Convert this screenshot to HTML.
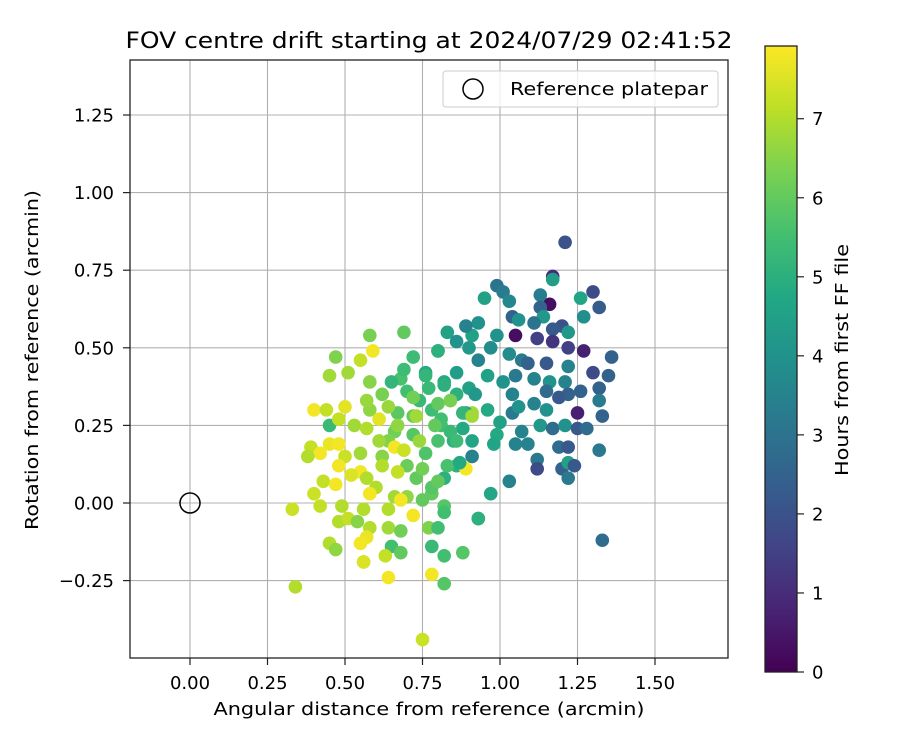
<!DOCTYPE html>
<html><head><meta charset="utf-8"><style>
html,body{margin:0;padding:0;background:#fff;}
svg{display:block;font-family:"DejaVu Sans","Liberation Sans",sans-serif;}
</style></head><body>
<svg id="chart" width="900" height="750" viewBox="0 0 900 750">
<defs>
<linearGradient id="vir" x1="0" y1="1" x2="0" y2="0">
<stop offset="0" stop-color="#440154"/><stop offset="0.1" stop-color="#482475"/><stop offset="0.2" stop-color="#414487"/><stop offset="0.3" stop-color="#355f8d"/><stop offset="0.4" stop-color="#2a788e"/><stop offset="0.5" stop-color="#21918c"/><stop offset="0.6" stop-color="#22a884"/><stop offset="0.7" stop-color="#44bf70"/><stop offset="0.8" stop-color="#7ad151"/><stop offset="0.9" stop-color="#bddf26"/><stop offset="1" stop-color="#fde725"/>
</linearGradient>
<clipPath id="plotclip"><rect x="130" y="60" width="598" height="598"/></clipPath>
</defs>
<text x="429" y="48" text-anchor="middle" font-size="22" textLength="607" lengthAdjust="spacingAndGlyphs">FOV centre drift starting at 2024/07/29 02:41:52</text>
<g id="grid"></g>
<g id="points" clip-path="url(#plotclip)"></g>
<circle cx="190" cy="503" r="10" fill="none" stroke="#000" stroke-width="1.5"/>
<rect x="130" y="60" width="598" height="598" fill="none" stroke="#222" stroke-width="1.3"/>
<g id="ticks"></g>
<text x="429" y="715" text-anchor="middle" font-size="18" textLength="431" lengthAdjust="spacingAndGlyphs">Angular distance from reference (arcmin)</text>
<text transform="translate(38,360) rotate(-90)" text-anchor="middle" font-size="18" textLength="340" lengthAdjust="spacingAndGlyphs">Rotation from reference (arcmin)</text>
<g>
<rect x="443" y="71" width="275" height="36" rx="3" fill="#fff" fill-opacity="0.8" stroke="#ccc"/>
<circle cx="473" cy="89" r="10" fill="none" stroke="#000" stroke-width="1.5"/>
<text x="510" y="95" font-size="18" textLength="198" lengthAdjust="spacingAndGlyphs">Reference platepar</text>
</g>
<rect x="765" y="46" width="32" height="626" fill="url(#vir)" stroke="#222" stroke-width="1.3"/>
<g id="cbticks"></g>
<text transform="translate(848,360) rotate(-90)" text-anchor="middle" font-size="18" textLength="232" lengthAdjust="spacingAndGlyphs">Hours from first FF file</text>
</svg>
<script>
const xs=[1.21,1.17,1.17,1.16,1.30,1.32,1.26,1.27,0.99,1.01,1.03,0.95,1.13,1.13,1.04,1.06,1.14,1.11,1.20,1.22,1.17,1.05,1.12,0.99,0.93,0.91,0.83,0.86,0.89,0.80,0.97,0.90,1.17,1.22,1.27,1.36,1.03,0.93,1.07,1.09,1.15,1.22,0.76,0.86,0.96,1.01,1.05,1.11,1.16,1.21,1.30,1.35,1.22,1.26,1.32,1.32,0.82,0.90,0.92,1.04,1.15,1.19,0.84,0.91,0.96,1.00,1.04,1.06,1.11,1.15,1.25,1.33,0.88,0.99,1.07,1.13,1.17,1.21,1.25,1.28,0.98,1.05,1.09,0.91,1.19,1.22,1.32,0.91,0.86,1.12,1.12,1.20,1.22,1.24,1.22,1.03,0.97,0.93,1.33,0.89,0.81,0.85,0.82,0.78,
0.70,0.74,0.78,0.82,0.86,0.88,0.84,0.80,0.76,0.72,0.67,0.62,0.68,0.72,0.77,0.81,0.86,0.83,0.78,0.73,0.70,0.66,0.62,0.58,0.64,
0.58,0.69,0.59,0.47,0.55,0.45,0.51,0.72,0.80,0.58,0.57,0.65,0.69,0.76,0.40,0.44,0.50,0.64,0.72,0.80,0.84,0.91,0.45,0.48,0.61,0.53,0.73,0.57,0.67,0.79,0.74,0.45,0.48,0.39,0.42,0.50,0.55,0.61,0.66,0.69,0.38,0.48,0.55,0.62,0.67,0.75,0.80,0.43,0.47,0.52,0.57,0.60,0.40,0.58,0.66,0.70,0.75,0.68,0.33,0.42,0.49,0.56,0.64,0.82,0.82,0.72,0.48,0.51,0.54,0.64,0.68,0.77,0.80,0.93,0.58,0.57,0.55,0.45,0.47,0.65,0.68,0.63,0.78,0.82,0.88,0.56,0.56,0.64,0.78,0.82,0.34,0.75,0.89,0.87];
const ys=[0.84,0.73,0.72,0.64,0.68,0.63,0.66,0.60,0.70,0.68,0.65,0.66,0.67,0.63,0.60,0.59,0.60,0.58,0.57,0.55,0.56,0.54,0.53,0.54,0.58,0.54,0.55,0.52,0.57,0.49,0.50,0.50,0.52,0.50,0.49,0.47,0.48,0.46,0.46,0.45,0.45,0.44,0.42,0.42,0.41,0.39,0.41,0.40,0.39,0.39,0.42,0.41,0.35,0.36,0.37,0.33,0.39,0.37,0.35,0.35,0.36,0.34,0.33,0.29,0.30,0.26,0.29,0.31,0.32,0.30,0.29,0.28,0.24,0.22,0.23,0.25,0.24,0.25,0.24,0.24,0.19,0.19,0.19,0.20,0.18,0.18,0.17,0.15,0.12,0.14,0.11,0.11,0.13,0.12,0.08,0.07,0.03,-0.05,-0.12,0.29,0.25,0.20,0.08,0.03,
0.36,0.33,0.30,0.38,0.35,0.29,0.23,0.20,0.16,0.22,0.29,0.35,0.40,0.28,0.37,0.27,0.20,0.12,0.05,0.08,0.12,0.23,0.15,0.30,0.20,
0.54,0.55,0.49,0.47,0.46,0.41,0.42,0.47,0.49,0.39,0.33,0.39,0.43,0.41,0.30,0.30,0.31,0.31,0.34,0.32,0.33,0.28,0.25,0.27,0.27,0.25,0.28,0.24,0.25,0.25,0.20,0.19,0.19,0.18,0.16,0.15,0.16,0.20,0.18,0.17,0.15,0.12,0.10,0.12,0.10,0.11,0.07,0.07,0.06,0.09,0.08,0.05,0.03,0.03,0.02,0.02,0.01,0.01,-0.02,-0.01,-0.01,-0.02,-0.02,-0.01,-0.03,-0.04,-0.06,-0.05,-0.06,-0.08,-0.09,-0.08,-0.08,-0.05,-0.08,-0.11,-0.13,-0.13,-0.15,-0.14,-0.16,-0.17,-0.14,-0.17,-0.16,-0.19,-0.19,-0.24,-0.23,-0.26,-0.27,-0.44,0.11,0.13];
const hours=[2.0,1.0,4.4,0.3,1.8,2.3,4.6,3.9,3.0,3.3,3.6,4.5,3.4,2.5,2.5,4.0,4.2,3.0,2.0,4.2,2.2,0.3,1.5,4.0,4.0,4.5,4.5,4.0,3.5,4.5,3.8,4.2,1.2,1.5,0.7,2.5,3.8,3.5,3.2,2.5,2.2,3.5,4.8,4.4,4.5,4.0,3.2,3.5,4.0,3.5,1.8,2.5,2.5,2.5,2.5,3.3,4.8,4.5,4.2,3.5,2.8,2.2,6.5,6.8,4.8,4.5,3.2,4.0,3.5,4.0,0.7,2.5,4.8,4.8,3.5,4.2,2.8,4.0,2.2,2.8,4.6,3.5,3.5,4.6,2.8,2.2,3.2,3.5,5.0,3.2,1.8,2.5,4.5,2.2,3.2,3.5,4.7,4.8,2.8,4.6,5.5,5.0,5.0,6.0,
5.5,5.3,5.4,5.0,5.0,5.2,5.3,5.6,5.7,5.8,5.9,6.3,5.6,6.0,5.3,5.5,5.4,5.6,5.8,6.0,6.1,6.2,6.5,6.6,6.4,
6.3,6.0,7.8,6.4,7.2,6.8,6.8,5.4,5.0,6.5,6.7,5.2,5.4,5.2,7.8,7.2,7.6,6.7,6.2,6.0,6.3,6.8,5.3,7.2,7.6,6.8,6.8,7.0,6.6,6.0,6.7,7.7,7.8,7.2,7.8,7.3,6.8,6.8,7.8,7.3,7.0,7.8,7.8,7.0,7.2,6.2,6.0,7.2,7.8,7.5,7.0,7.0,7.3,7.8,6.8,6.6,6.0,7.8,7.3,7.2,7.0,7.0,7.0,5.8,5.5,7.8,7.0,7.2,6.5,6.8,6.2,6.4,5.5,5.0,7.0,7.7,7.8,7.0,6.6,5.5,6.0,7.2,5.3,5.5,5.8,7.3,7.5,7.8,7.8,5.8,7.0,7.3,7.8,4.8];
const xTicks=[0,0.25,0.5,0.75,1.0,1.25,1.5];
const xTickLabels=["0.00","0.25","0.50","0.75","1.00","1.25","1.50"];
const yTicks=[-0.25,0,0.25,0.5,0.75,1.0,1.25];
const yTickLabels=["\u22120.25","0.00","0.25","0.50","0.75","1.00","1.25"];
const cbTicks=[0,1,2,3,4,5,6,7];
const cMax=7.92;

const NS="http://www.w3.org/2000/svg";
const X=v=>190+v*310, Y=v=>503-v*310.4, CB=v=>672-v/cMax*626;
const vir=["#440154","#482475","#414487","#355f8d","#2a788e","#21918c","#22a884","#44bf70","#7ad151","#bddf26","#fde725"];
function hex(h){return [1,3,5].map(i=>parseInt(h.substr(i,2),16));}
function cmap(v){let t=Math.max(0,Math.min(1,v/cMax))*10;let i=Math.min(9,Math.floor(t)),f=t-i;
 const a=hex(vir[i]),b=hex(vir[i+1]);return "rgb("+a.map((c,k)=>Math.round(c+(b[k]-c)*f)).join(",")+")";}
function mk(tag,attrs,parent){const e=document.createElementNS(NS,tag);for(const k in attrs)e.setAttribute(k,attrs[k]);parent.appendChild(e);return e;}
const grid=document.getElementById("grid"),ticks=document.getElementById("ticks"),pts=document.getElementById("points"),cbt=document.getElementById("cbticks");
xTicks.forEach((v,i)=>{
 const g=mk("line",{x1:X(v),x2:X(v),y1:60,y2:658,stroke:"#b0b0b0","stroke-width":1.1},grid);
 
 
 mk("line",{x1:X(v),x2:X(v),y1:658,y2:665,stroke:"#222","stroke-width":1.2},ticks);
 const t=mk("text",{x:X(v),y:689,"text-anchor":"middle","font-size":18},ticks);
 t.textContent=xTickLabels[i];
 
 
});
yTicks.forEach((v,i)=>{
 const g=mk("line",{x1:130,x2:728,y1:Y(v),y2:Y(v),stroke:"#b0b0b0","stroke-width":1.1},grid);
 
 
 mk("line",{x1:123,x2:130,y1:Y(v),y2:Y(v),stroke:"#222","stroke-width":1.2},ticks);
 const t=mk("text",{x:114,y:Y(v)+6.5,"text-anchor":"end","font-size":18},ticks);
 t.textContent=yTickLabels[i];
 
 
});
xs.forEach((x,i)=>{
 const c=mk("circle",{cx:X(x),cy:Y(ys[i]),r:6.8,fill:cmap(hours[i])},pts);
 
 
});
cbTicks.forEach(v=>{
 mk("line",{x1:797,x2:804,y1:CB(v),y2:CB(v),stroke:"#222","stroke-width":1.2},cbt);
 const t=mk("text",{x:812,y:CB(v)+6.5,"font-size":18},cbt);
 t.textContent=String(v);
 
 
});
</script>
</body></html>
